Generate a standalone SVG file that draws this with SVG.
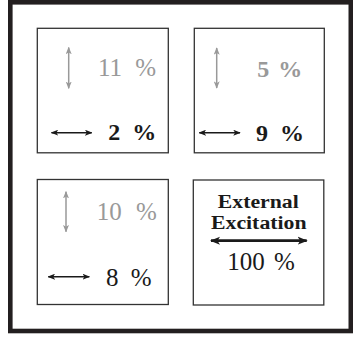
<svg xmlns="http://www.w3.org/2000/svg" width="353" height="338" viewBox="0 0 353 338">
<defs>
<marker id="hb" viewBox="0 0 10 8" refX="9" refY="4" markerWidth="7.5" markerHeight="6" markerUnits="userSpaceOnUse" orient="auto-start-reverse"><path d="M0,0 L10,4 L0,8 L2.5,4 Z" fill="#1a1a1a"/></marker>
<marker id="hg" viewBox="0 0 10 8" refX="9" refY="4" markerWidth="7.5" markerHeight="6" markerUnits="userSpaceOnUse" orient="auto-start-reverse"><path d="M0,0 L10,4 L0,8 L2.5,4 Z" fill="#999"/></marker>
<marker id="hx" viewBox="0 0 10 8" refX="9" refY="4" markerWidth="10" markerHeight="9" markerUnits="userSpaceOnUse" orient="auto-start-reverse"><path d="M0,0 L10,4 L0,8 L2.5,4 Z" fill="#1a1a1a"/></marker>
</defs>
<style>
.frame{fill:none;stroke:#231f20;stroke-width:4.6}
.box{fill:#fff;stroke:#333;stroke-width:1.3}
.t{font-family:"Liberation Serif","DejaVu Serif",serif;font-size:25px}
.g{fill:#999}
.k{fill:#1a1a1a}
.b{font-weight:bold;font-size:24px}
.ag{stroke:#999;stroke-width:1.5;marker-start:url(#hg);marker-end:url(#hg)}
.ak{stroke:#1a1a1a;stroke-width:1.5;marker-start:url(#hb);marker-end:url(#hb)}
.ax{stroke:#1a1a1a;stroke-width:2.8;marker-start:url(#hx);marker-end:url(#hx)}
.h{font-family:"Liberation Serif","DejaVu Serif",serif;font-size:18px;font-weight:bold;fill:#1a1a1a}
</style>
<rect class="frame" x="10.3" y="2.3" width="340.5" height="328.7"/>
<g id="box1">
<rect class="box" x="37.3" y="28.3" width="131" height="124.5"/>
<text class="t g" x="98" y="76" word-spacing="7">11 %</text>
<text class="t k b" x="108.3" y="140" word-spacing="6">2 %</text>
</g>
<g id="box2">
<rect class="box" x="194.3" y="28.3" width="130" height="124.5"/>
<text class="t g b" x="257.3" y="77" word-spacing="3">5 %</text>
<text class="t k b" x="256" y="141" word-spacing="6">9 %</text>
</g>
<g id="box3">
<rect class="box" x="37.3" y="179.5" width="131" height="125"/>
<text class="t g" x="96.7" y="220" word-spacing="8">10 %</text>
<text class="t k" x="106" y="285.7" word-spacing="6">8 %</text>
</g>
<g id="box4">
<rect class="box" x="193.3" y="180" width="130.5" height="125"/>
<text class="h" x="258.3" y="208.3" text-anchor="middle" textLength="81" lengthAdjust="spacingAndGlyphs">External</text>
<text class="h" x="258.8" y="229.3" text-anchor="middle" textLength="95.7" lengthAdjust="spacingAndGlyphs">Excitation</text>
<text class="t k" x="227.3" y="270" word-spacing="3">100 %</text>
</g>
<g id="connectors">
<line class="ag" x1="68.7" y1="47.5" x2="68.7" y2="88.3"/>
<line class="ak" x1="51.5" y1="132.7" x2="91.7" y2="132.7"/>
<line class="ag" x1="216.7" y1="48" x2="216.7" y2="88"/>
<line class="ak" x1="199.3" y1="132.7" x2="240" y2="132.7"/>
<line class="ag" x1="66" y1="191.7" x2="66" y2="231.7"/>
<line class="ak" x1="48.3" y1="276.7" x2="89.3" y2="276.7"/>
<line class="ax" x1="211" y1="240.7" x2="306.7" y2="240.7"/>
</g>
</svg>
